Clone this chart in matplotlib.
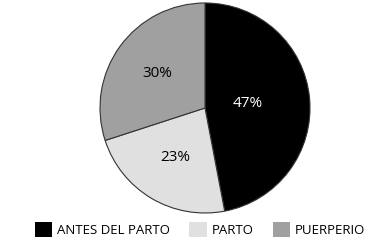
import matplotlib
matplotlib.use("Agg")
import matplotlib.pyplot as plt
from matplotlib.patches import Patch
import numpy as np

categories = ["ANTES DEL PARTO", "PARTO", "PUERPERIO"]
values = [47, 23, 30]
colors = ["#000000", "#e0e0e0", "#a0a0a0"]
text_colors = ["white", "black", "black"]
label_dist = [0.41, 0.55, 0.56]

plt.rcParams['font.family'] = ['Open Sans', 'DejaVu Sans']

fig = plt.figure(figsize=(3.91, 2.45), dpi=100)
ax = fig.add_axes([0, 0, 1, 1])

cx, cy, r = 205, 245 - 108, 105
wedges, texts, autotexts = ax.pie(values, colors=colors, startangle=90, counterclock=False,
                                  center=(cx, cy), radius=r, autopct='%d%%', pctdistance=0.5,
                                  wedgeprops=dict(edgecolor="#333333", linewidth=0.8),
                                  textprops=dict(fontsize=11), frame=True)
ax.set_xlim(0, 391)
ax.set_ylim(0, 245)
ax.set_aspect('equal')
ax.axis('off')
for w, t, c, d in zip(wedges, autotexts, text_colors, label_dist):
    t.set_color(c)
    mid = np.deg2rad((w.theta1 + w.theta2) / 2)
    t.set_position((cx + d * r * np.cos(mid), cy + d * r * np.sin(mid)))

handles = [Patch(facecolor=c, edgecolor='none') for c in colors]
fig.legend(handles, categories, loc='lower center', ncol=3, frameon=False,
           bbox_to_anchor=(0.512, -0.015), fontsize=9.5, handlelength=1.3, handleheight=1.3,
           columnspacing=1.45, handletextpad=0.4)

fig.savefig("out.png", dpi=100)
